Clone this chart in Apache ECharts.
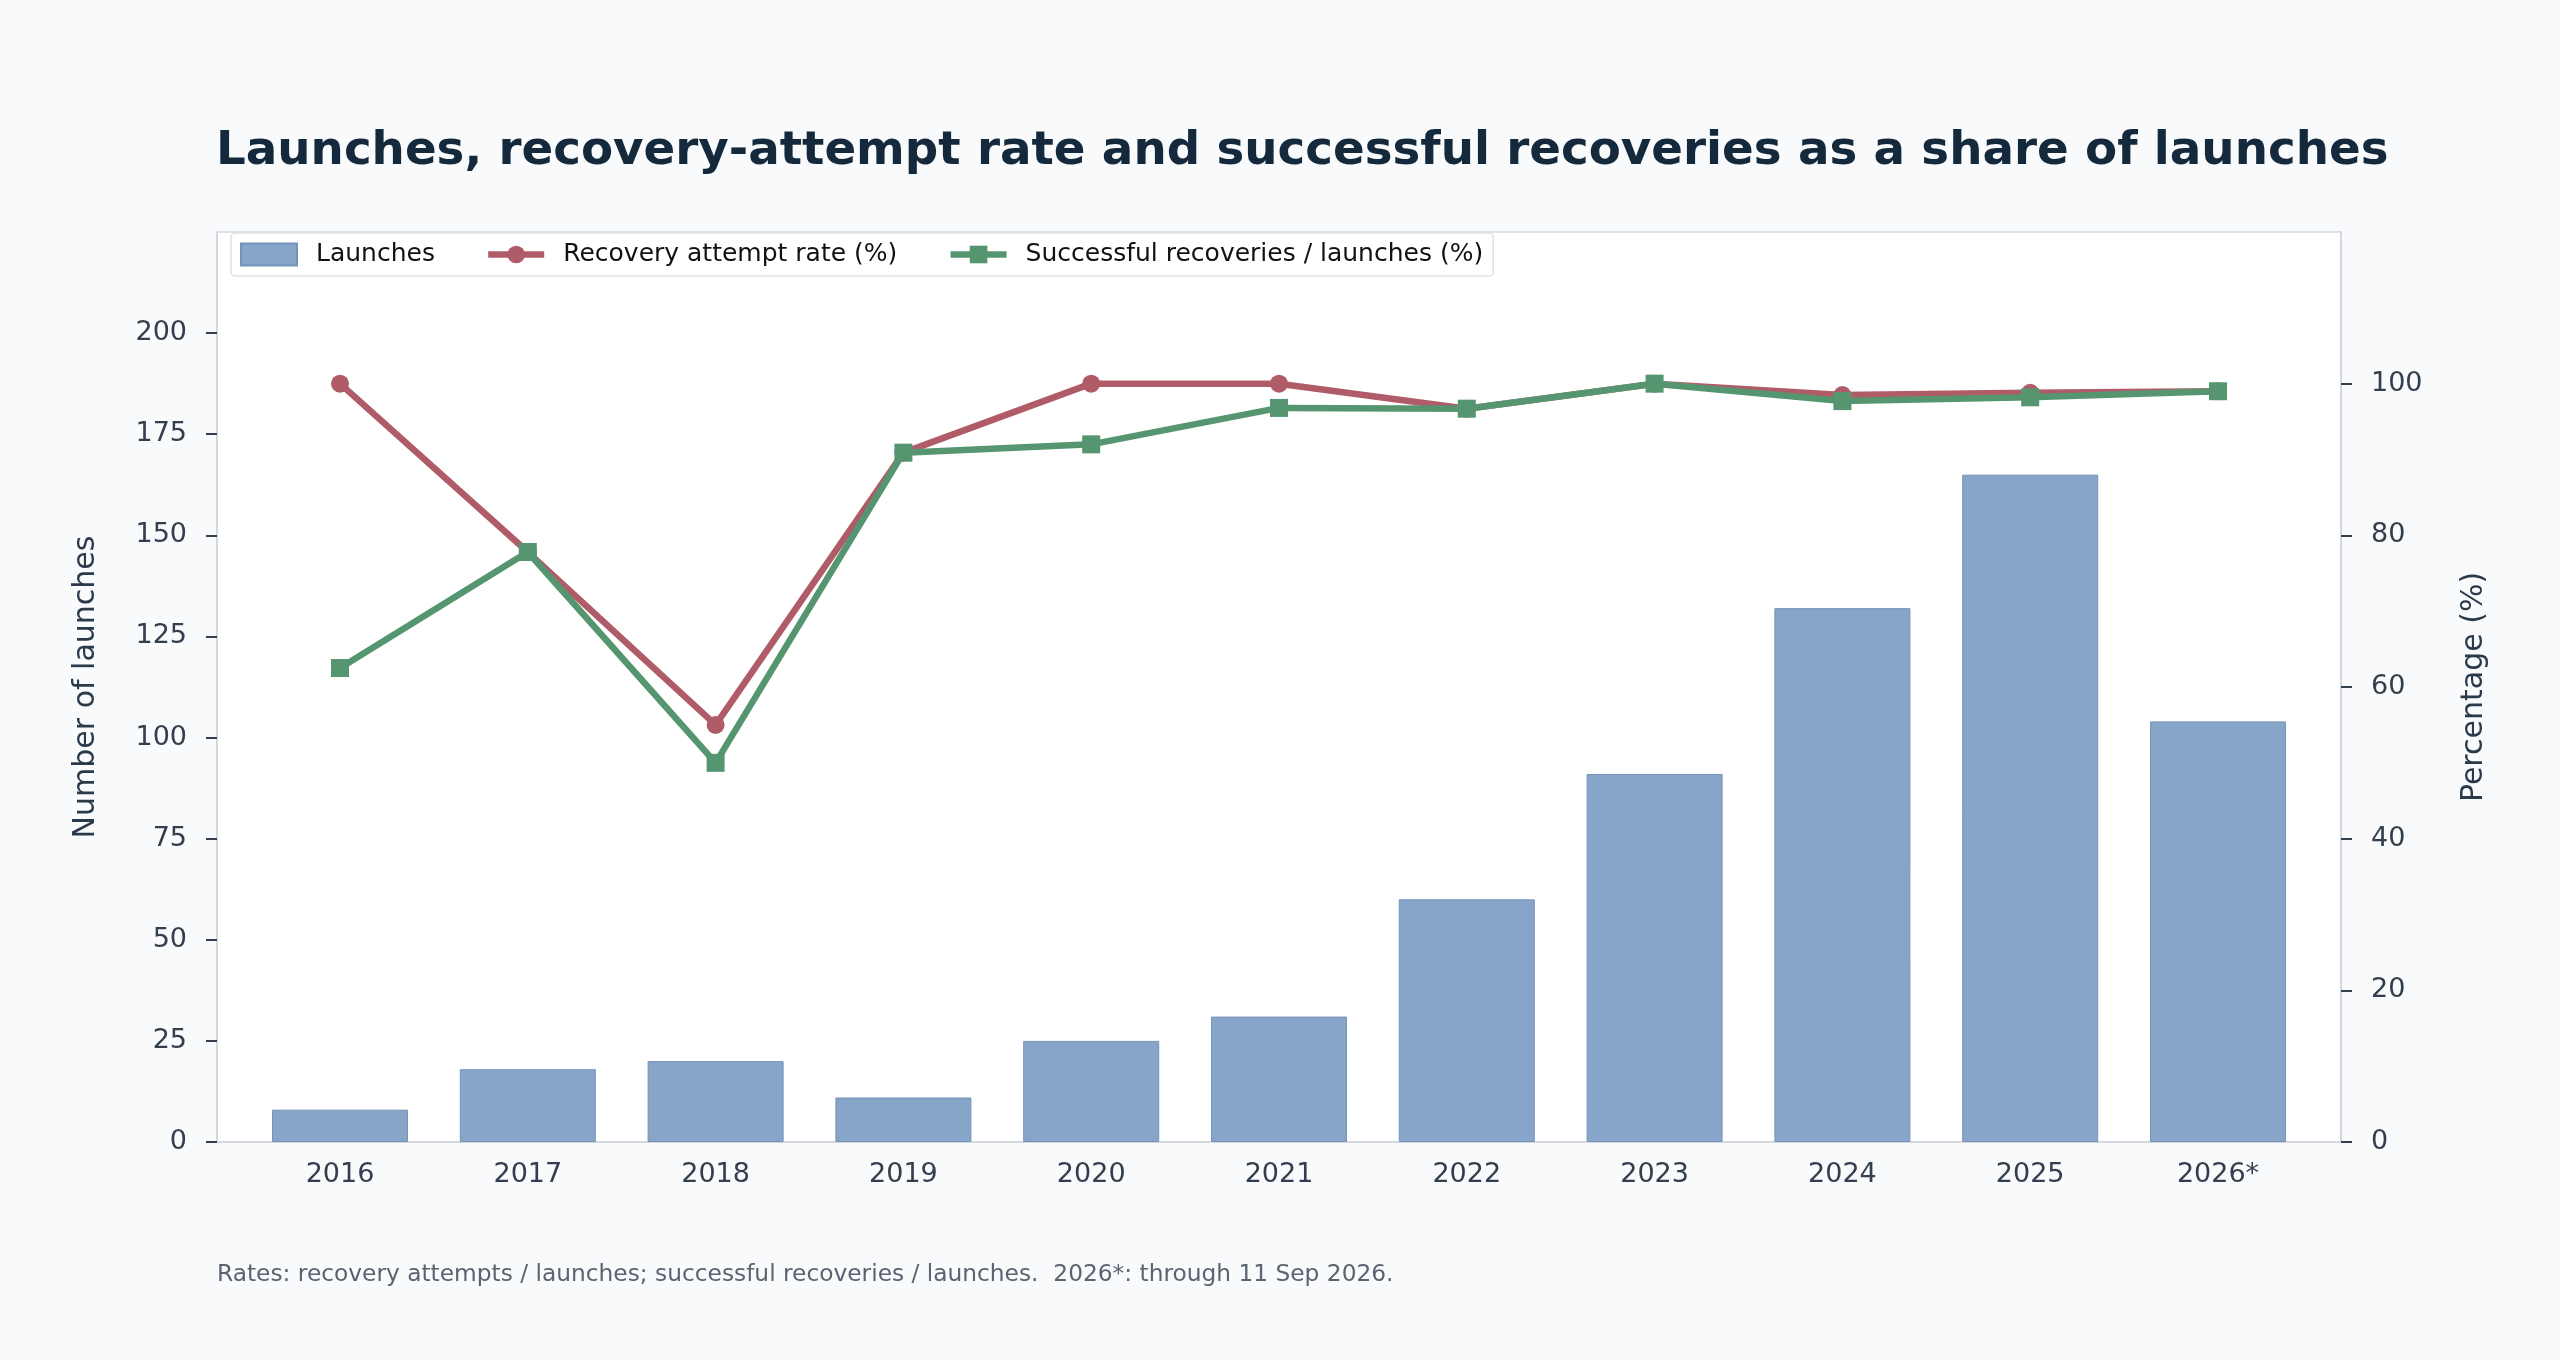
<!DOCTYPE html>
<html>
<head>
<meta charset="utf-8">
<script src="https://cdn.jsdelivr.net/npm/echarts@6/dist/echarts.min.js"></script>
<style>
html,body{margin:0;padding:0;background:#f8fafc;}
#chart{width:2560px;height:1360px;}
</style>
</head>
<body>
<div id="chart"></div>
<script>
const categories = ['2016','2017','2018','2019','2020','2021','2022','2023','2024','2025','2026*'];
const launches = [8, 18, 20, 11, 25, 31, 60, 91, 132, 165, 104];
const attemptRate = [100, 77.8, 55, 90.9, 100, 100, 96.7, 100, 98.5, 98.8, 99.0];
const successRate = [62.5, 77.8, 50, 90.9, 92, 96.8, 96.7, 100, 97.7, 98.2, 99.0];
const leftTicks = [0, 25, 50, 75, 100, 125, 150, 175, 200];
const rightTicks = [0, 20, 40, 60, 80, 100];
const categoryIndex = categories.map((c, i) => i);

const FONT = 'DejaVu Sans';
const pairs = arr => arr.map((v, i) => [i, v]);

const chart = echarts.init(document.getElementById('chart'));
chart.setOption({
  backgroundColor: '#f8fafc',
  animation: false,
  textStyle: { fontFamily: FONT },
  title: {
    text: 'Launches, recovery-attempt rate and successful recoveries as a share of launches',
    left: 211, top: 123,
    textStyle: { fontFamily: FONT, fontSize: 46.75, fontWeight: 'bold', color: '#14293c' }
  },
  legend: {
    left: 231, top: 233,
    padding: [9, 10, 9, 9],
    backgroundColor: '#ffffff',
    borderColor: '#dde1e6', borderWidth: 1.5, borderRadius: 4,
    itemWidth: 56, itemHeight: 22, itemGap: 50,
    lineStyle: { width: 6.5 },
    textStyle: { fontFamily: FONT, fontSize: 25, color: '#111111', padding: [0, 0, 0, 14] },
    data: [
      { name: 'Launches', icon: 'rect' },
      { name: 'Recovery attempt rate (%)' },
      { name: 'Successful recoveries / launches (%)' }
    ]
  },
  grid: {
    left: 217, right: 219, top: 232, bottom: 218,
    show: true, backgroundColor: '#ffffff', borderColor: '#d3d8de', borderWidth: 1.5,
    containLabel: false
  },
  xAxis: {
    type: 'value', min: -0.655, max: 10.655,
    axisLine: { show: true, onZero: false, lineStyle: { color: '#cfd5dc', width: 1.5 } },
    axisTick: { show: false },
    splitLine: { show: false },
    axisLabel: {
      fontFamily: FONT, fontSize: 27, color: '#333f4e', margin: 19,
      customValues: categoryIndex,
      formatter: v => categories[Math.round(v)]
    }
  },
  yAxis: [
    {
      type: 'value', min: 0, max: 225, interval: 25, position: 'left',
      name: 'Number of launches', nameLocation: 'middle', nameGap: 116, nameRotate: 90,
      nameTextStyle: { fontFamily: FONT, fontSize: 30, color: '#2b3a4b' },
      axisLine: { show: true, onZero: false, lineStyle: { color: '#cfd5dc', width: 1.5 } },
      axisTick: { show: true, length: 11, customValues: leftTicks, lineStyle: { color: '#333f4e', width: 2 } },
      axisLabel: { fontFamily: FONT, fontSize: 27, color: '#333f4e', margin: 30, customValues: leftTicks },
      splitLine: { show: false }
    },
    {
      type: 'value', min: 0, max: 120, interval: 20, position: 'right',
      name: 'Percentage (%)', nameLocation: 'middle', nameGap: 118, nameRotate: 90,
      nameTextStyle: { fontFamily: FONT, fontSize: 30, color: '#2b3a4b' },
      axisLine: { show: true, onZero: false, lineStyle: { color: '#cfd5dc', width: 1.5 } },
      axisTick: { show: true, length: 11, customValues: rightTicks, lineStyle: { color: '#333f4e', width: 2 } },
      axisLabel: { fontFamily: FONT, fontSize: 27, color: '#333f4e', margin: 30, customValues: rightTicks },
      splitLine: { show: false }
    }
  ],
  series: [
    {
      name: 'Launches', type: 'bar', data: pairs(launches), yAxisIndex: 0,
      barWidth: 136,
      itemStyle: { color: '#87a5c8', borderColor: '#7592b8', borderWidth: 1 }
    },
    {
      name: 'Recovery attempt rate (%)', type: 'line', data: pairs(attemptRate), yAxisIndex: 1,
      symbol: 'circle', symbolSize: 18,
      lineStyle: { color: '#b05c68', width: 6.5 },
      itemStyle: { color: '#b05c68' }
    },
    {
      name: 'Successful recoveries / launches (%)', type: 'line', data: pairs(successRate), yAxisIndex: 1,
      symbol: 'rect', symbolSize: 18,
      lineStyle: { color: '#559670', width: 6.5 },
      itemStyle: { color: '#559670' }
    }
  ],
  graphic: [
    {
      type: 'text', left: 217, top: 1263,
      style: {
        text: 'Rates: recovery attempts / launches; successful recoveries / launches.  2026*: through 11 Sep 2026.',
        fontFamily: FONT, fontSize: 23.3, fill: '#5a6470'
      }
    }
  ]
});
</script>
</body>
</html>
